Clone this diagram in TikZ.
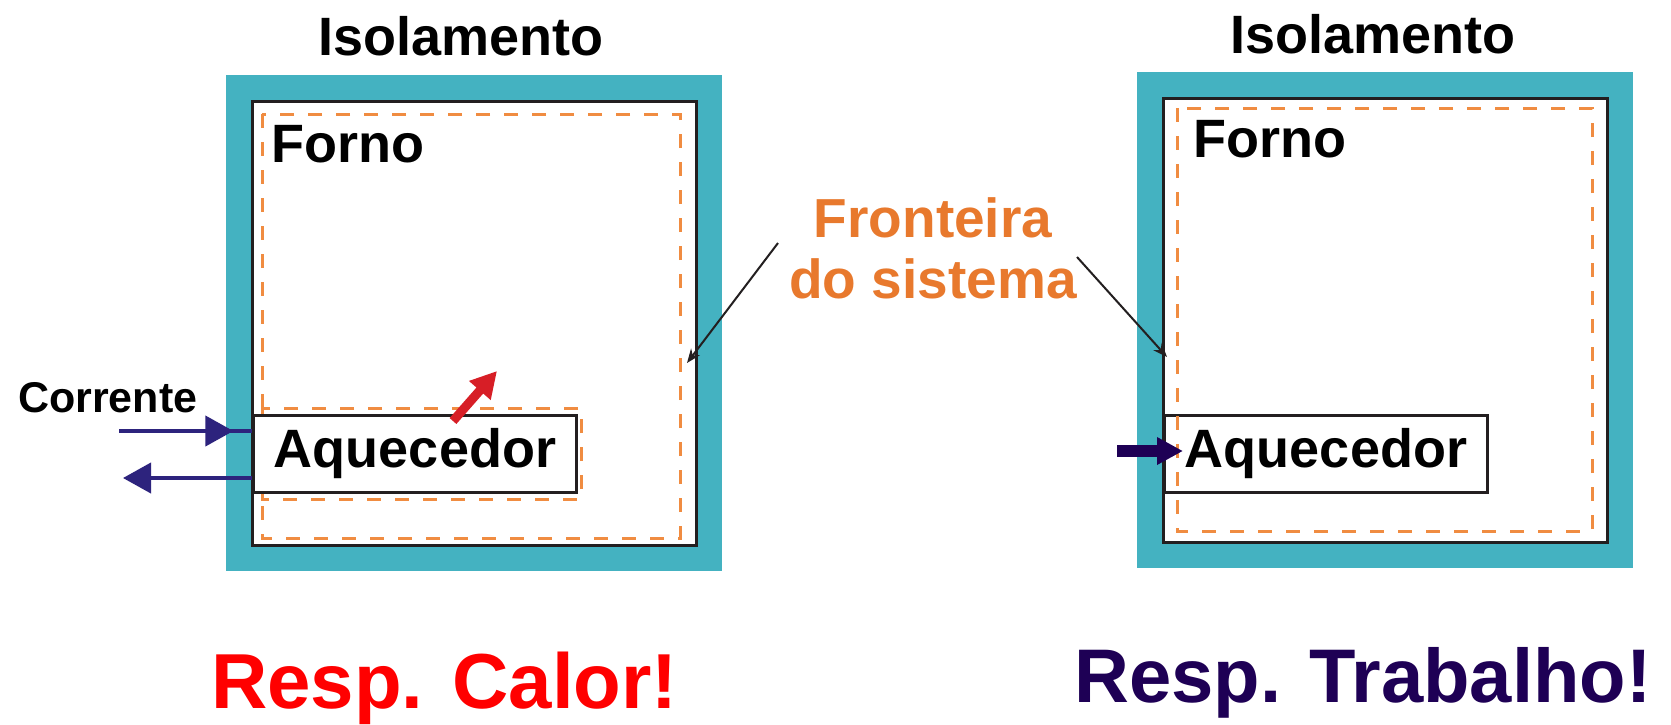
\documentclass[tikz,border=0pt]{standalone}
\usepackage{fontspec}
\setmainfont{Liberation Sans}
\usetikzlibrary{arrows.meta,decorations.markings}
\definecolor{isol}{RGB}{68,178,193}
\definecolor{preto}{RGB}{35,31,32}
\definecolor{laranja}{RGB}{240,140,65}
\definecolor{laranjatxt}{RGB}{232,121,45}
\definecolor{corr}{RGB}{45,35,125}
\definecolor{trab}{RGB}{30,0,85}
\definecolor{calor}{RGB}{215,30,38}
\begin{document}
\begin{tikzpicture}[x=1pt,y=-1pt,
    rotulo/.style={font=\bfseries\fontsize{54}{60}\selectfont,inner sep=0pt},
    isolam/.style={fill=isol,minimum size=496pt,inner sep=0pt},
    forno/.style={fill=white,draw=preto,line width=3pt,minimum size=444pt,inner sep=0pt},
    aquec/.style={rotulo,draw=preto,line width=3pt,minimum width=323pt,minimum height=77pt},
    borda/.style={draw=laranja,line width=3pt,dash pattern=on 14pt off 14pt},
    seta/.style={preto,line width=2pt,-{Stealth[length=14pt,width=11pt]}},
    fio/.style={corr,line width=4pt}]
    \useasboundingbox[fill=white] (0,0) rectangle (1671,724);
    % forno com resistencia fora da fronteira
    \node[isolam] (iso1) at (474,323) {};
    \node[forno] (f1) at (474,323) {};
    \node[rotulo,anchor=base] (tit1) at (461,55) {Isolamento};
    \node[rotulo,anchor=base west] (fo1) at (271,162) {Forno};
    \draw[borda] (262,114) rectangle (680,538);
    \draw[borda] (262,408) rectangle (581,499);
    \node[aquec,fill=white,anchor=west] (aq1) at (252,454) {Aquecedor};
    \node[font=\bfseries\fontsize{43}{48}\selectfont,inner sep=0pt,anchor=base west] (cor) at (18,412) {Corrente};
    \coordinate (c1) at (119,431);
    \coordinate (c2) at (123,478);
    \draw[fio,postaction={decorate},decoration={markings,mark=at position 0.86 with {\arrow{Triangle[length=28pt,width=30pt]}}}] (c1) -- (c1 -| aq1.west);
    \draw[fio,-{Triangle[length=28pt,width=30pt]}] (c2 -| aq1.west) -- (c2);
    \coordinate (q0) at (453,421);
    \coordinate (q1) at (497,371);
    \draw[calor,line width=9pt,-{Triangle[length=26pt,width=27pt]}] (q0) -- (q1);
    % forno com resistencia dentro da fronteira
    \node[isolam] (iso2) at (1385,320) {};
    \node[forno] (f2) at (1385,320) {};
    \node[rotulo,anchor=base] (tit2) at (1373,53) {Isolamento};
    \node[rotulo,anchor=base west] (fo2) at (1193,157) {Forno};
    \node[aquec,anchor=west] (aq2) at (1163,454) {Aquecedor};
    \draw[borda] (1177,108) rectangle (1592,531);
    \coordinate (w0) at (1117,451);
    \coordinate (w1) at (1183,451);
    \draw[trab,line width=12pt,-{Triangle[length=26pt,width=26pt]}] (w0) -- (w1);
    % fronteira
    \node[font=\bfseries\fontsize{55}{61}\selectfont,text=laranjatxt,align=center,inner sep=0pt,anchor=base] (fr) at (933,298) {Fronteira\\do sistema};
    \coordinate (fr1) at (778,243);
    \coordinate (fr2) at (1077,257);
    \coordinate (b1) at (687,363);
    \coordinate (b2) at (1167,357);
    \draw[seta] (fr1) -- (b1);
    \draw[seta] (fr2) -- (b2);
    \node[font=\bfseries\fontsize{78}{86}\selectfont,text=red,inner sep=0pt,anchor=base west] (rc) at (211,708) {Resp. Calor!};
    \node[font=\bfseries\fontsize{76}{84}\selectfont,text=trab,inner sep=0pt,anchor=base west] (rt) at (1074,702) {Resp. Trabalho!};
\end{tikzpicture}
\end{document}
